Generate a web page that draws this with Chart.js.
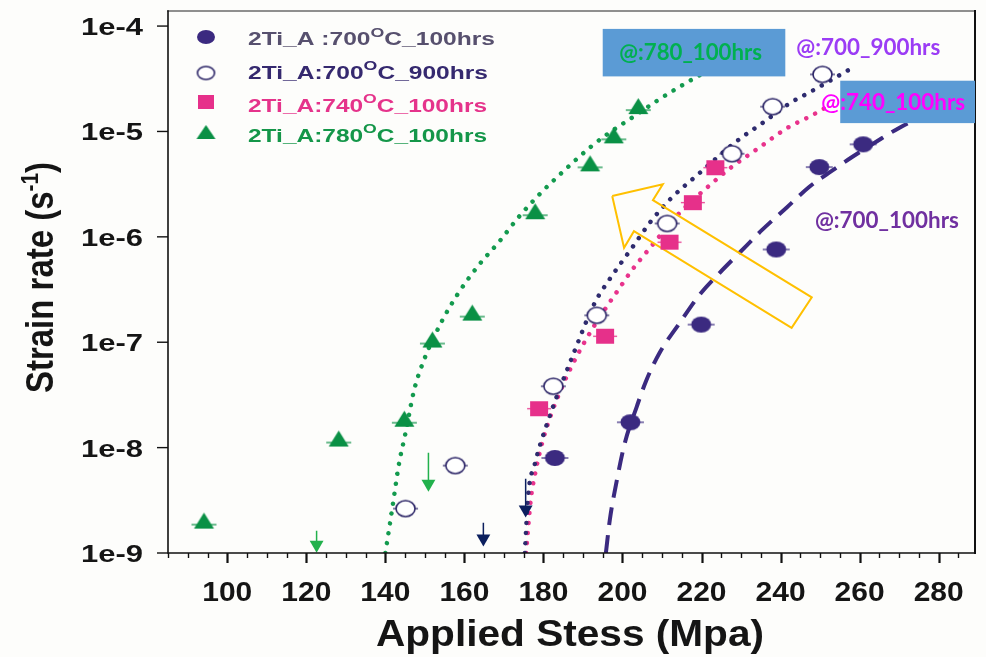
<!DOCTYPE html>
<html>
<head>
<meta charset="utf-8">
<script src="https://cdn.jsdelivr.net/npm/chart.js@4.4.1/dist/chart.umd.min.js"></script>
<style>
  html, body { margin: 0; background: #fdfdfb; }
  #wrap { width: 986px; height: 657px; position: relative; }
</style>
</head>
<body>
<div id="wrap"><canvas id="creep"></canvas></div>
<script>
// measured points (stress in MPa, strain rate in 1/s)
const stress700_100 = [182.9, 202.0, 219.9, 238.9, 249.8, 260.9];
const rate700_100 = [7.98e-9, 1.74e-8, 1.47e-7, 7.59e-7, 4.59e-6, 7.55e-6];

const stress700_900 = [145.1, 157.7, 182.5, 193.5, 211.3, 227.7, 238.0, 250.6];
const rate700_900 = [2.64e-9, 6.75e-9, 3.82e-8, 1.80e-7, 1.34e-6, 6.15e-6, 1.72e-5, 3.48e-5];

const stress740_100 = [178.9, 195.6, 211.9, 217.8, 223.5];
const rate740_100 = [2.34e-8, 1.14e-7, 8.91e-7, 2.11e-6, 4.53e-6];

const stress780_100 = [94.1, 128.2, 144.8, 151.9, 162.0, 177.9, 191.8, 197.8, 204.0];
const rate780_100 = [2.03e-9, 1.22e-8, 1.88e-8, 1.06e-7, 1.91e-7, 1.75e-6, 4.98e-6, 9.18e-6, 1.74e-5];

// fitted curves
const fit780X = [140.0, 141.7, 143.5, 145.0, 147.3, 149.8, 154.1, 158.2, 163.7, 168.8, 173.8, 178.9, 185.2, 192.0, 197.0, 201.6, 208.7, 218.8, 234.4];
const fit780Y = [1e-9, 2.58e-9, 7.19e-9, 1.32e-8, 3.54e-8, 6.83e-8, 1.53e-7, 2.82e-7, 5.43e-7, 9.0e-7, 1.55e-6, 2.51e-6, 4.24e-6, 7.16e-6, 9.93e-6, 1.29e-5, 1.95e-5, 3.30e-5, 6.65e-5];

const fit900X = [175.3, 176.1, 177.9, 180.4, 188.0, 193.0, 197.0, 202.6, 207.1, 212.2, 219.0, 228.4, 235.9, 242.5, 247.6, 258.2];
const fit900Y = [1e-9, 3.42e-9, 7.19e-9, 1.48e-8, 8.49e-8, 2.37e-7, 4.09e-7, 8.05e-7, 1.39e-6, 2.30e-6, 3.88e-6, 7.82e-6, 1.24e-5, 1.87e-5, 2.38e-5, 4.02e-5];

const fit740X = [175.6, 176.8, 178.1, 179.9, 181.9, 184.2, 186.7, 190.0, 193.8, 199.3, 202.1, 207.2, 214.0, 222.8, 227.4, 234.9, 241.7, 247.3, 253.1];
const fit740Y = [1e-9, 3.21e-9, 6.17e-9, 1.19e-8, 2.05e-8, 3.39e-8, 5.48e-8, 9.46e-8, 1.63e-7, 3.29e-7, 4.67e-7, 8.05e-7, 1.62e-6, 3.26e-6, 4.53e-6, 7.16e-6, 1.08e-5, 1.38e-5, 1.83e-5];

const fit700X = [195.8, 196.8, 198.6, 200.6, 203.6, 206.1, 209.4, 214.5, 219.5, 224.6, 229.6, 235.4, 241.5, 247.3, 252.3, 258.2, 264.2, 270.0, 285.2];
const fit700Y = [1e-9, 2.07e-9, 4.96e-9, 1.11e-8, 2.44e-8, 4.41e-8, 7.94e-8, 1.53e-7, 2.82e-7, 4.56e-7, 7.06e-7, 1.17e-6, 1.89e-6, 2.99e-6, 4.06e-6, 5.75e-6, 7.98e-6, 1.08e-5, 2.0e-5];

// upper-limit arrows
const limitStress = [122.6, 150.9, 164.8, 175.5];
const limitTop = [1.63e-9, 8.95e-9, 1.94e-9, 5.07e-9];
const limitHead = [1.20e-9, 4.54e-9, 1.37e-9, 2.58e-9];
const limitColors = ["#22B14C", "#22B14C", "#0B1F5E", "#0B1F5E"];

// yellow guide arrow outline
const guideX = [197.4, 210.2, 207.7, 247.9, 242.8, 202.9, 200.4, 197.4];
const guideY = [2.44e-6, 3.15e-6, 2.23e-6, 2.67e-7, 1.37e-7, 1.13e-6, 7.87e-7, 2.44e-6];

const xTicks = [100, 120, 140, 160, 180, 200, 220, 240, 260, 280];
const yTicks = [1e-9, 1e-8, 1e-7, 1e-6, 1e-5, 1e-4];
const yTickLabels = ["1e-9", "1e-8", "1e-7", "1e-6", "1e-5", "1e-4"];

const legendLabels = [
  ["2Ti_A :700", "O", "C_100hrs"],
  ["2Ti_A:700", "O", "C_900hrs"],
  ["2Ti_A:740", "O", "C_100hrs"],
  ["2Ti_A:780", "O", "C_100hrs"],
];

// text notes placed in data coordinates
const notes = [
  { text: "@:780_100hrs", x1: 199.2, x2: 235.3, y: 4.79e-5, color: "#00B050", box: [195.0, 241.2, 9.4e-5, 3.33e-5] },
  { text: "@:700_900hrs", x1: 244.0, x2: 280.4, y: 5.35e-5, color: "#9B3CF5" },
  { text: "@:740_100hrs", x1: 250.3, x2: 286.7, y: 1.61e-5, color: "#FF00FF", box: [255.1, 289.2, 3.03e-5, 1.20e-5] },
  { text: "@:700_100hrs", x1: 248.7, x2: 285.1, y: 1.21e-6, color: "#7030A0" },
];

const C_DOT = "#3B2A80";
const C_RING = "#2B2466";
const C_SQ = "#E6308A";
const C_TRI = "#0A9045";

function sprite(kind, color, w, h, bar) {
  const c = document.createElement("canvas");
  c.width = Math.ceil(Math.max(w, bar) + 4);
  c.height = Math.ceil(h + 4);
  const g = c.getContext("2d");
  const cx = c.width / 2, cy = c.height / 2;
  g.fillStyle = color;
  g.strokeStyle = color;
  if (bar) {
    const by = kind === "tri" ? cy + h * 0.25 : cy;
    g.lineWidth = 1.2;
    g.beginPath();
    g.moveTo(cx - bar / 2, by);
    g.lineTo(cx + bar / 2, by);
    g.stroke();
  }
  g.beginPath();
  if (kind === "dot" || kind === "ring") {
    g.ellipse(cx, cy, w / 2, h / 2, 0, 0, Math.PI * 2);
  } else if (kind === "sq") {
    g.rect(cx - w / 2, cy - h / 2, w, h);
  } else {
    g.moveTo(cx, cy - h / 2);
    g.lineTo(cx + w / 2, cy + h / 2);
    g.lineTo(cx - w / 2, cy + h / 2);
    g.closePath();
  }
  if (kind === "ring") {
    g.fillStyle = "#ffffff";
    g.fill();
    g.lineWidth = 1.6;
    g.stroke();
  } else {
    g.fill();
  }
  return c;
}

const markDot = sprite("dot", C_DOT, 20, 16, 27);
const markRing = sprite("ring", C_RING, 19, 16, 25);
const markSq = sprite("sq", C_SQ, 18, 15, 24);
const markTri = sprite("tri", C_TRI, 20, 16, 25);
const legendMarks = [
  sprite("dot", C_DOT, 18, 14, 0),
  sprite("ring", C_RING, 17, 13, 0),
  sprite("sq", C_SQ, 16, 14, 0),
  sprite("tri", C_TRI, 19, 14, 0),
];

const pts = (xs, ys) => xs.map((x, i) => ({ x: x, y: ys[i] }));

function markers(label, xs, ys, img) {
  return { label: label, data: pts(xs, ys), pointStyle: img, pointRadius: 10, showLine: false };
}

function curve(xs, ys, color, dash, width, cap) {
  return {
    data: pts(xs, ys),
    showLine: true,
    borderColor: color,
    borderWidth: width,
    borderDash: dash,
    borderCapStyle: cap,
    pointRadius: 0,
    cubicInterpolationMode: "monotone",
    fill: false,
  };
}

const arrows = limitStress.map((x, i) => ({
  data: [{ x: x, y: limitTop[i] }, { x: x, y: limitHead[i] }],
  showLine: true,
  borderColor: limitColors[i],
  borderWidth: 1.5,
  pointStyle: "triangle",
  pointRotation: 180,
  pointRadius: [0, 8],
  pointBorderWidth: 0,
  pointBackgroundColor: limitColors[i],
}));

function fitText(ctx, s, x, y, font, color, width) {
  ctx.save();
  ctx.font = font;
  ctx.fillStyle = color;
  ctx.textBaseline = "alphabetic";
  const m = ctx.measureText(s).width;
  ctx.translate(x, y);
  ctx.scale(width ? width / m : 1, 1);
  ctx.fillText(s, 0, 0);
  ctx.restore();
}

// pieces: [text, size, rise]
function richText(ctx, pieces, family, x, y, width, color) {
  ctx.save();
  ctx.fillStyle = color;
  ctx.textBaseline = "alphabetic";
  let total = 0;
  pieces.forEach((p) => {
    ctx.font = "bold " + p[1] + "px " + family;
    total += ctx.measureText(p[0]).width;
  });
  ctx.translate(x, y);
  ctx.scale(width / total, 1);
  let cx = 0;
  pieces.forEach((p) => {
    ctx.font = "bold " + p[1] + "px " + family;
    ctx.fillText(p[0], cx, -p[2]);
    cx += ctx.measureText(p[0]).width;
  });
  ctx.restore();
}

const decor = {
  id: "decor",
  afterDraw(chart) {
    const { ctx, chartArea: a, scales } = chart;
    const x = scales.x, y = scales.y;
    const sans = "'Liberation Sans', Arial, sans-serif";

    // frame
    ctx.save();
    ctx.lineCap = "square";
    ctx.strokeStyle = "#6a6a6a";
    ctx.lineWidth = 1.5;
    ctx.beginPath();
    ctx.moveTo(a.left, a.top);
    ctx.lineTo(a.right, a.top);
    ctx.stroke();
    ctx.strokeStyle = "#111";
    ctx.lineWidth = 2;
    ctx.beginPath();
    ctx.moveTo(a.right, a.top);
    ctx.lineTo(a.right, a.bottom);
    ctx.stroke();
    ctx.lineWidth = 1.6;
    ctx.beginPath();
    ctx.moveTo(a.left, a.top);
    ctx.lineTo(a.left, a.bottom);
    ctx.lineTo(a.right, a.bottom);
    ctx.stroke();

    // x ticks, minor every 5
    ctx.lineCap = "butt";
    for (let v = 85; v <= x.max; v += 5) {
      const px = Math.round(x.getPixelForValue(v)) + 0.5;
      const major = xTicks.includes(v);
      ctx.lineWidth = major ? 2.2 : 1.4;
      ctx.beginPath();
      ctx.moveTo(px, a.bottom);
      ctx.lineTo(px, a.bottom + (major ? 10 : 5));
      ctx.stroke();
    }
    xTicks.forEach((v) => {
      const px = x.getPixelForValue(v);
      fitText(ctx, String(v), px - 25, 601, "bold 28px " + sans, "#151515", 50);
    });

    // y ticks
    yTicks.forEach((v, i) => {
      const py = y.getPixelForValue(v);
      ctx.lineWidth = 1.4;
      ctx.beginPath();
      ctx.moveTo(a.left - 11, py);
      ctx.lineTo(a.left, py);
      ctx.stroke();
      fitText(ctx, yTickLabels[i], 81, py + 9, "bold 23px " + sans, "#151515", 62);
    });
    ctx.restore();

    // axis titles
    fitText(ctx, "Applied Stess (Mpa)", 376, 646, "bold 37px " + sans, "#151515", 388);
    ctx.save();
    ctx.translate(53, 393);
    ctx.rotate(-Math.PI / 2);
    richText(ctx, [["Strain rate (s", 38, 0], ["-1", 24, 15], [")", 38, 0]], sans, 0, 0, 231, "#151515");
    ctx.restore();

    // notes
    const lato = "Lato, 'Open Sans', sans-serif";
    notes.forEach((n) => {
      if (n.box) {
        const bx1 = x.getPixelForValue(n.box[0]), bx2 = x.getPixelForValue(n.box[1]);
        const by1 = y.getPixelForValue(n.box[2]), by2 = y.getPixelForValue(n.box[3]);
        ctx.fillStyle = "#5B9BD5";
        ctx.fillRect(bx1, by1, bx2 - bx1, by2 - by1);
      }
      const tx1 = x.getPixelForValue(n.x1), tx2 = x.getPixelForValue(n.x2);
      fitText(ctx, n.text, tx1, y.getPixelForValue(n.y), "bold 22px " + lato, n.color, tx2 - tx1);
    });

    // legend
    const legColors = ["#57506E", "#35296F", "#E5338B", "#149649"];
    const markY = [35, 71, 100, 130];
    const baseY = [45, 78.5, 111.5, 141.5];
    const widths = [247, 240, 239, 239];
    legendLabels.forEach((parts, i) => {
      const m = legendMarks[i];
      ctx.drawImage(m, a.left + 38 - m.width / 2, a.top + markY[i] - 9 - m.height / 2);
      richText(ctx, [[parts[0], 18, 0], [parts[1], 13, 8.5], [parts[2], 18, 0]], sans, 248, baseY[i], widths[i], legColors[i]);
    });
  },
};

new Chart(document.getElementById("creep"), {
  type: "scatter",
  data: {
    datasets: [
      markers("2Ti_A :700C_100hrs", stress700_100, rate700_100, markDot),
      markers("2Ti_A:700C_900hrs", stress700_900, rate700_900, markRing),
      markers("2Ti_A:740C_100hrs", stress740_100, rate740_100, markSq),
      markers("2Ti_A:780C_100hrs", stress780_100, rate780_100, markTri),
      ...arrows,
      {
        data: pts(guideX, guideY),
        showLine: true,
        borderColor: "#FFC000",
        borderWidth: 2,
        borderJoinStyle: "miter",
        pointRadius: 0,
        tension: 0,
        fill: false,
      },
      curve(fit780X, fit780Y, "#139A4E", [0.01, 10], 4.5, "round"),
      curve(fit900X, fit900Y, "#2E2B6E", [0.01, 10], 4.5, "round"),
      curve(fit740X, fit740Y, "#E8338C", [0.01, 10], 4.5, "round"),
      curve(fit700X, fit700Y, C_DOT, [18, 10], 4, "butt"),
    ],
  },
  options: {
    responsive: true,
    maintainAspectRatio: false,
    animation: false,
    events: [],
    layout: { padding: { left: 168, right: 9, top: 9, bottom: 104 } },
    scales: {
      x: { type: "linear", min: 85, max: 289.2, display: false },
      y: { type: "logarithmic", min: 1e-9, max: 1.39e-4, display: false },
    },
    plugins: {
      legend: { display: false },
      tooltip: { enabled: false },
    },
  },
  plugins: [decor],
});
</script>
</body>
</html>
